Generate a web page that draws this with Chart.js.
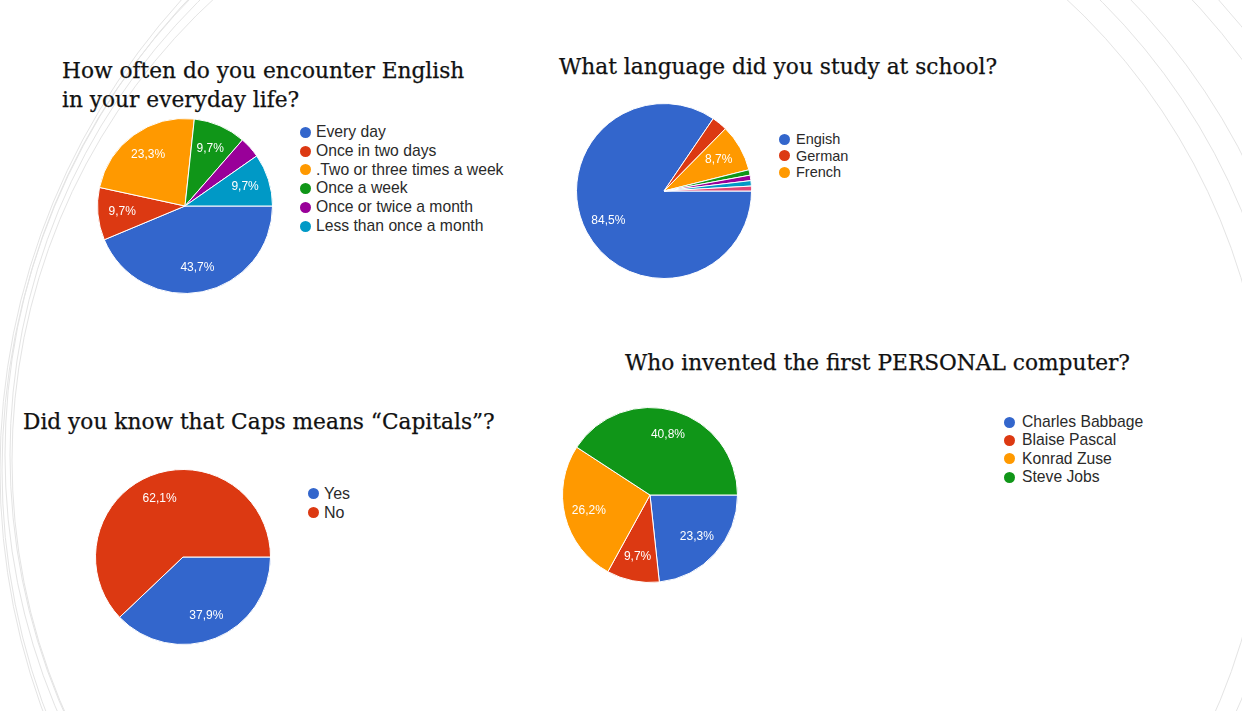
<!DOCTYPE html>
<html>
<head>
<meta charset="utf-8">
<script src="https://cdn.jsdelivr.net/npm/chart.js@4"></script>
<style>
    html, body { margin: 0; padding: 0; background: #fff; }
    #page { position: relative; width: 1242px; height: 711px; overflow: hidden; background: #fff; }
    #bg { position: absolute; left: 0; top: 0; }
    .title { position: absolute; font-family: 'DejaVu Serif', serif; font-size: 21.7px; color: #111; line-height: 29px; white-space: nowrap; -webkit-text-stroke: 0.25px #111; }
    .pie { position: absolute; width: 176px; height: 176px; }
    .legend { position: absolute; font-family: 'Liberation Sans', Arial, sans-serif; color: #2a2a2a; white-space: nowrap; }
    .legend div { position: relative; }
    .legend span.dot { position: absolute; border-radius: 50%; }
</style>
</head>
<body>
<div id="page">
    <svg id="bg" width="1242" height="711"></svg>

    <div class="title" style="left:62px; top:56px;">How often do you encounter English<br>in your everyday life?</div>
    <div class="pie" style="left:97px; top:118px;"><canvas id="freqChart"></canvas></div>
    <div class="legend" id="freqLegend" style="left:300px; top:123px; font-size:15.7px;"></div>

    <div class="title" style="left:559px; top:52px;">What language did you study at school?</div>
    <div class="pie" style="left:576px; top:103px;"><canvas id="langChart"></canvas></div>
    <div class="legend" id="langLegend" style="left:779px; top:131px; font-size:14.5px;"></div>

    <div class="title" style="left:23px; top:407px;">Did you know that Caps means “Capitals”?</div>
    <div class="pie" style="left:95px; top:469px;"><canvas id="capsChart"></canvas></div>
    <div class="legend" id="capsLegend" style="left:308px; top:484px; font-size:16px;"></div>

    <div class="title" style="left:625px; top:348px;">Who invented the first PERSONAL computer?</div>
    <div class="pie" style="left:562px; top:407px;"><canvas id="pcChart"></canvas></div>
    <div class="legend" id="pcLegend" style="left:1004px; top:413px; font-size:15.7px;"></div>
</div>

<script>
// colours used by the survey charts
const palette = ['#3366cc', '#dc3912', '#ff9900', '#109618', '#990099', '#0099c6', '#dd4477'];

// How often do you encounter English
const freqLabels = ['Every day', 'Once in two days', '.Two or three times a week', 'Once a week', 'Once or twice a month', 'Less than once a month'];
const freqValues = [43.7, 9.7, 23.3, 9.7, 3.9, 9.7];

// What language did you study at school (only 3 options are in the legend)
const langLabels = ['Engish', 'German', 'French'];
const langValues = [84.5, 2.9, 8.7, 1.0, 1.0, 1.0, 0.9];

// Caps = Capitals
const capsLabels = ['Yes', 'No'];
const capsValues = [37.9, 62.1];

// first personal computer
const pcLabels = ['Charles Babbage', 'Blaise Pascal', 'Konrad Zuse', 'Steve Jobs'];
const pcValues = [23.3, 9.7, 26.2, 40.8];

// faint decorative arcs behind everything
const svg = document.getElementById('bg');
const arcs = [
    [650, 455, 640], [660, 455, 655], [640, 460, 628], [700, 470, 700], [690, 470, 688]
];
arcs.forEach(a => {
    const c = document.createElementNS('http://www.w3.org/2000/svg', 'circle');
    c.setAttribute('cx', a[0]);
    c.setAttribute('cy', a[1]);
    c.setAttribute('r', a[2]);
    c.setAttribute('fill', 'none');
    c.setAttribute('stroke', '#e4e4e4');
    c.setAttribute('stroke-width', '1');
    svg.appendChild(c);
});

// percentage text inside the slices (google forms style)
const sliceLabels = {
    id: 'sliceLabels',
    afterDatasetsDraw(chart) {
        const ctx = chart.ctx;
        const meta = chart.getDatasetMeta(0);
        const values = chart.data.datasets[0].data;
        ctx.save();
        ctx.font = '12px "Liberation Sans", Arial, sans-serif';
        ctx.fillStyle = '#ffffff';
        ctx.textAlign = 'center';
        ctx.textBaseline = 'middle';
        meta.data.forEach((arc, i) => {
            if (values[i] < 5) return;
            const p = arc.getProps(['x', 'y', 'startAngle', 'endAngle', 'outerRadius'], true);
            const mid = (p.startAngle + p.endAngle) / 2;
            const r = p.outerRadius * 0.72;
            const text = values[i].toFixed(1).replace('.', ',') + '%';
            ctx.fillText(text, p.x + Math.cos(mid) * r, p.y + Math.sin(mid) * r);
        });
        ctx.restore();
    }
};

function makePie(id, labels, values) {
    const labelsAll = values.map((v, i) => labels[i] || '');
    new Chart(document.getElementById(id), {
        type: 'pie',
        data: {
            labels: labelsAll,
            datasets: [{
                data: values,
                backgroundColor: palette.slice(0, values.length),
                borderColor: '#ffffff',
                borderWidth: 1
            }]
        },
        options: {
            responsive: true,
            maintainAspectRatio: false,
            animation: false,
            rotation: 90,
            plugins: {
                legend: { display: false },
                tooltip: { enabled: false }
            }
        },
        plugins: [sliceLabels]
    });
}

function makeLegend(id, labels, rowHeight, dotSize, gap) {
    const box = document.getElementById(id);
    labels.forEach((label, i) => {
        const row = document.createElement('div');
        row.style.height = rowHeight + 'px';
        row.style.lineHeight = rowHeight + 'px';
        row.style.paddingLeft = (dotSize + gap) + 'px';
        const dot = document.createElement('span');
        dot.className = 'dot';
        dot.style.width = dotSize + 'px';
        dot.style.height = dotSize + 'px';
        dot.style.left = '0px';
        dot.style.top = ((rowHeight - dotSize) / 2) + 'px';
        dot.style.background = palette[i];
        row.appendChild(dot);
        row.appendChild(document.createTextNode(label));
        box.appendChild(row);
    });
}

makePie('freqChart', freqLabels, freqValues);
makePie('langChart', langLabels, langValues);
makePie('capsChart', capsLabels, capsValues);
makePie('pcChart', pcLabels, pcValues);

makeLegend('freqLegend', freqLabels, 18.8, 11, 5);
makeLegend('langLegend', langLabels, 16.5, 11, 6);
makeLegend('capsLegend', capsLabels, 19, 11, 5);
makeLegend('pcLegend', pcLabels, 18.3, 11, 7);
</script>
</body>
</html>
